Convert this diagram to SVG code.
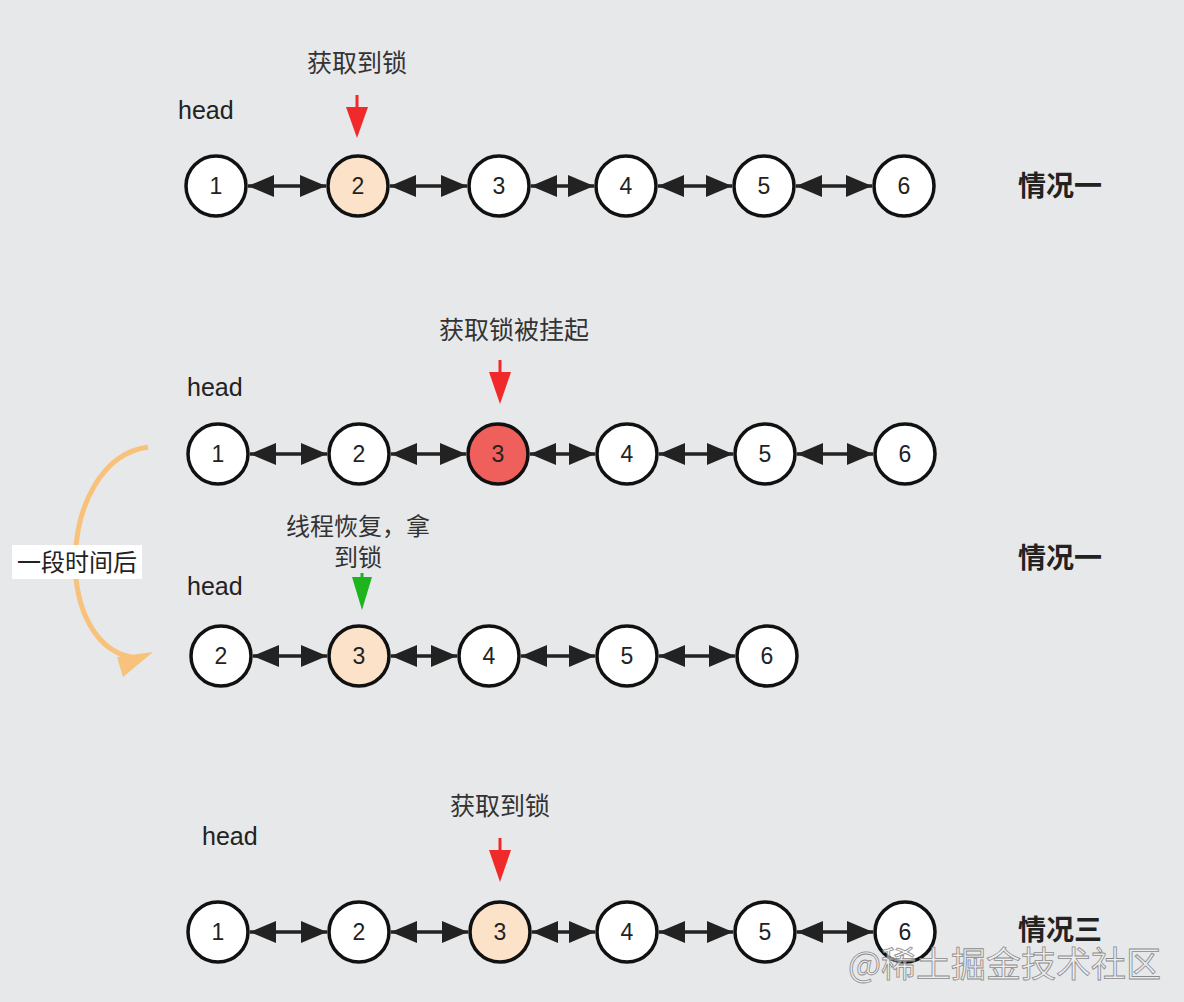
<svg xmlns="http://www.w3.org/2000/svg" width="1184" height="1002" viewBox="0 0 1184 1002">
<defs>
<style>
.bg{fill:#e7e8ea}
.n{stroke:#111;stroke-width:3.5;fill:#fff}
.n.p{fill:#fbe2c8}
.n.r{fill:#ef5f5b}
.num{font-family:"Liberation Sans",Arial,sans-serif;font-size:23px;fill:#222;text-anchor:middle}
.lbl{font-family:"Noto Sans CJK SC","Liberation Sans",sans-serif;font-size:25px;fill:#333;text-anchor:middle}
.head{font-family:"Liberation Sans",Arial,sans-serif;font-size:25px;fill:#222}
.case{font-family:"Noto Sans CJK SC",sans-serif;font-size:28px;font-weight:bold;fill:#222}
.c{stroke:#222;stroke-width:3.5;fill:none;marker-start:url(#ah);marker-end:url(#ah)}
</style>
<marker id="ah" markerUnits="userSpaceOnUse" markerWidth="28" markerHeight="24" refX="26" refY="12" orient="auto-start-reverse">
<path d="M0,1 L26,12 L0,23 z" fill="#222"/>
</marker>
</defs>
<rect class="bg" x="0" y="0" width="1184" height="1002"/>

<g id="connectors">
<line class="c" x1="248" y1="186" x2="326" y2="186"/>
<line class="c" x1="390" y1="186" x2="467" y2="186"/>
<line class="c" x1="531" y1="186" x2="594" y2="186"/>
<line class="c" x1="658" y1="186" x2="732" y2="186"/>
<line class="c" x1="796" y1="186" x2="872" y2="186"/>

<line class="c" x1="250" y1="454" x2="327" y2="454"/>
<line class="c" x1="391" y1="454" x2="466" y2="454"/>
<line class="c" x1="530" y1="454" x2="595" y2="454"/>
<line class="c" x1="659" y1="454" x2="733" y2="454"/>
<line class="c" x1="797" y1="454" x2="873" y2="454"/>

<line class="c" x1="253" y1="656" x2="327" y2="656"/>
<line class="c" x1="391" y1="656" x2="457" y2="656"/>
<line class="c" x1="521" y1="656" x2="595" y2="656"/>
<line class="c" x1="659" y1="656" x2="735" y2="656"/>

<line class="c" x1="250" y1="932" x2="327" y2="932"/>
<line class="c" x1="391" y1="932" x2="468" y2="932"/>
<line class="c" x1="532" y1="932" x2="595" y2="932"/>
<line class="c" x1="659" y1="932" x2="733" y2="932"/>
<line class="c" x1="797" y1="932" x2="873" y2="932"/>

<path d="M148,447 C55,460 50,655 140,658" fill="none" stroke="#f8c17c" stroke-width="5"/>
<polygon points="153,652 117,657 123,677" fill="#f8c17c"/>

<line x1="357" y1="95" x2="357" y2="110" stroke="#f02a2a" stroke-width="3"/>
<polygon points="346,107 368,107 357,138" fill="#f02a2a"/>
<line x1="500" y1="360" x2="500" y2="375" stroke="#f02a2a" stroke-width="3"/>
<polygon points="489,372 511,372 500,404" fill="#f02a2a"/>
<line x1="362" y1="573" x2="362" y2="580" stroke="#1db41d" stroke-width="3"/>
<polygon points="352,577 372,577 362,610" fill="#1db41d"/>
<line x1="500" y1="838" x2="500" y2="853" stroke="#f02a2a" stroke-width="3"/>
<polygon points="489,850 511,850 500,882" fill="#f02a2a"/>
</g>

<g id="row1">
<text class="lbl" x="357" y="72">获取到锁</text>
<text class="head" x="178" y="119">head</text>
<g id="r1n1"><circle class="n" cx="216" cy="186" r="30"/><text class="num" x="216" y="194">1</text></g>
<g id="r1n2"><circle class="n p" cx="358" cy="186" r="30"/><text class="num" x="358" y="194">2</text></g>
<g id="r1n3"><circle class="n" cx="499" cy="186" r="30"/><text class="num" x="499" y="194">3</text></g>
<g id="r1n4"><circle class="n" cx="626" cy="186" r="30"/><text class="num" x="626" y="194">4</text></g>
<g id="r1n5"><circle class="n" cx="764" cy="186" r="30"/><text class="num" x="764" y="194">5</text></g>
<g id="r1n6"><circle class="n" cx="904" cy="186" r="30"/><text class="num" x="904" y="194">6</text></g>
<text class="case" x="1018" y="196">情况一</text>
</g>

<g id="row2">
<text class="lbl" x="514" y="339">获取锁被挂起</text>
<text class="head" x="187" y="396">head</text>
<g id="r2n1"><circle class="n" cx="218" cy="454" r="30"/><text class="num" x="218" y="462">1</text></g>
<g id="r2n2"><circle class="n" cx="359" cy="454" r="30"/><text class="num" x="359" y="462">2</text></g>
<g id="r2n3"><circle class="n r" cx="498" cy="454" r="30"/><text class="num" x="498" y="462">3</text></g>
<g id="r2n4"><circle class="n" cx="627" cy="454" r="30"/><text class="num" x="627" y="462">4</text></g>
<g id="r2n5"><circle class="n" cx="765" cy="454" r="30"/><text class="num" x="765" y="462">5</text></g>
<g id="r2n6"><circle class="n" cx="905" cy="454" r="30"/><text class="num" x="905" y="462">6</text></g>
<text class="case" x="1018" y="568">情况一</text>
</g>

<g id="after">
<rect x="12" y="545" width="130" height="34" fill="#fff"/>
<text class="lbl" x="77" y="571" style="fill:#222;font-size:24px">一段时间后</text>
</g>

<g id="row3">
<text class="lbl" style="font-size:24px"><tspan x="358" y="535">线程恢复，拿</tspan><tspan x="358" y="566">到锁</tspan></text>
<text class="head" x="187" y="595">head</text>
<g id="r3n2"><circle class="n" cx="221" cy="656" r="30"/><text class="num" x="221" y="664">2</text></g>
<g id="r3n3"><circle class="n p" cx="359" cy="656" r="30"/><text class="num" x="359" y="664">3</text></g>
<g id="r3n4"><circle class="n" cx="489" cy="656" r="30"/><text class="num" x="489" y="664">4</text></g>
<g id="r3n5"><circle class="n" cx="627" cy="656" r="30"/><text class="num" x="627" y="664">5</text></g>
<g id="r3n6"><circle class="n" cx="767" cy="656" r="30"/><text class="num" x="767" y="664">6</text></g>
</g>

<g id="row4">
<text class="lbl" x="500" y="815">获取到锁</text>
<text class="head" x="202" y="845">head</text>
<g id="r4n1"><circle class="n" cx="218" cy="932" r="30"/><text class="num" x="218" y="940">1</text></g>
<g id="r4n2"><circle class="n" cx="359" cy="932" r="30"/><text class="num" x="359" y="940">2</text></g>
<g id="r4n3"><circle class="n p" cx="500" cy="932" r="30"/><text class="num" x="500" y="940">3</text></g>
<g id="r4n4"><circle class="n" cx="627" cy="932" r="30"/><text class="num" x="627" y="940">4</text></g>
<g id="r4n5"><circle class="n" cx="765" cy="932" r="30"/><text class="num" x="765" y="940">5</text></g>
<g id="r4n6"><circle class="n" cx="905" cy="932" r="30"/><text class="num" x="905" y="940">6</text></g>
<text class="case" x="1018" y="940">情况三</text>
</g>

<text x="848" y="977" font-family="Noto Sans CJK SC,sans-serif" font-size="35" fill="#f2f2f2" fill-opacity="0.6" stroke="#8a8a8a" stroke-width="0.8">@稀土掘金技术社区</text>
</svg>
